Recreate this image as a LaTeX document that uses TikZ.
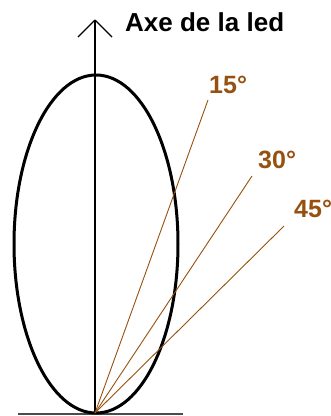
\documentclass[tikz,border=0pt]{standalone}
\usepackage{fontspec}
\setmainfont{Liberation Sans}
\definecolor{ledbrown}{RGB}{150,80,15}

\begin{document}
\begin{tikzpicture}[x=1pt,y=-1pt,
  angletext/.style={font=\fontsize{25}{28}\selectfont\bfseries,inner sep=0pt,anchor=base west},
  ray/.style={ledbrown,line width=0.9pt}]
  \useasboundingbox (0,0) rectangle (331,416);
  \coordinate (led) at (95,413);
  \coordinate (top) at (95,20);
  \coordinate (e15) at (208,100);
  \coordinate (e30) at (252,176);
  \coordinate (e45) at (284,226);
  % base and emission lobe
  \draw[black!70,line width=2.5pt] (18,414) -- (183,414);
  \draw[line width=3pt] (96,244) ellipse (82 and 169);
  % axis
  \draw[line width=1.2pt] (led) -- (top);
  \draw[line width=1.2pt] (top) -- ++(-17,17) (top) -- ++(17,17);
  \node[angletext,black,font=\fontsize{26}{30}\selectfont\bfseries] (axe) at (125,31.5) {Axe de la led};
  % angles
  \draw[ray] (led) -- (e15);
  \draw[ray] (led) -- (e30);
  \draw[ray] (led) -- (e45);
  \node[angletext,ledbrown] (l15) at (209,93) {15°};
  \node[angletext,ledbrown] (l30) at (258,168) {30°};
  \node[angletext,ledbrown] (l45) at (294,217) {45°};
\end{tikzpicture}
\end{document}
